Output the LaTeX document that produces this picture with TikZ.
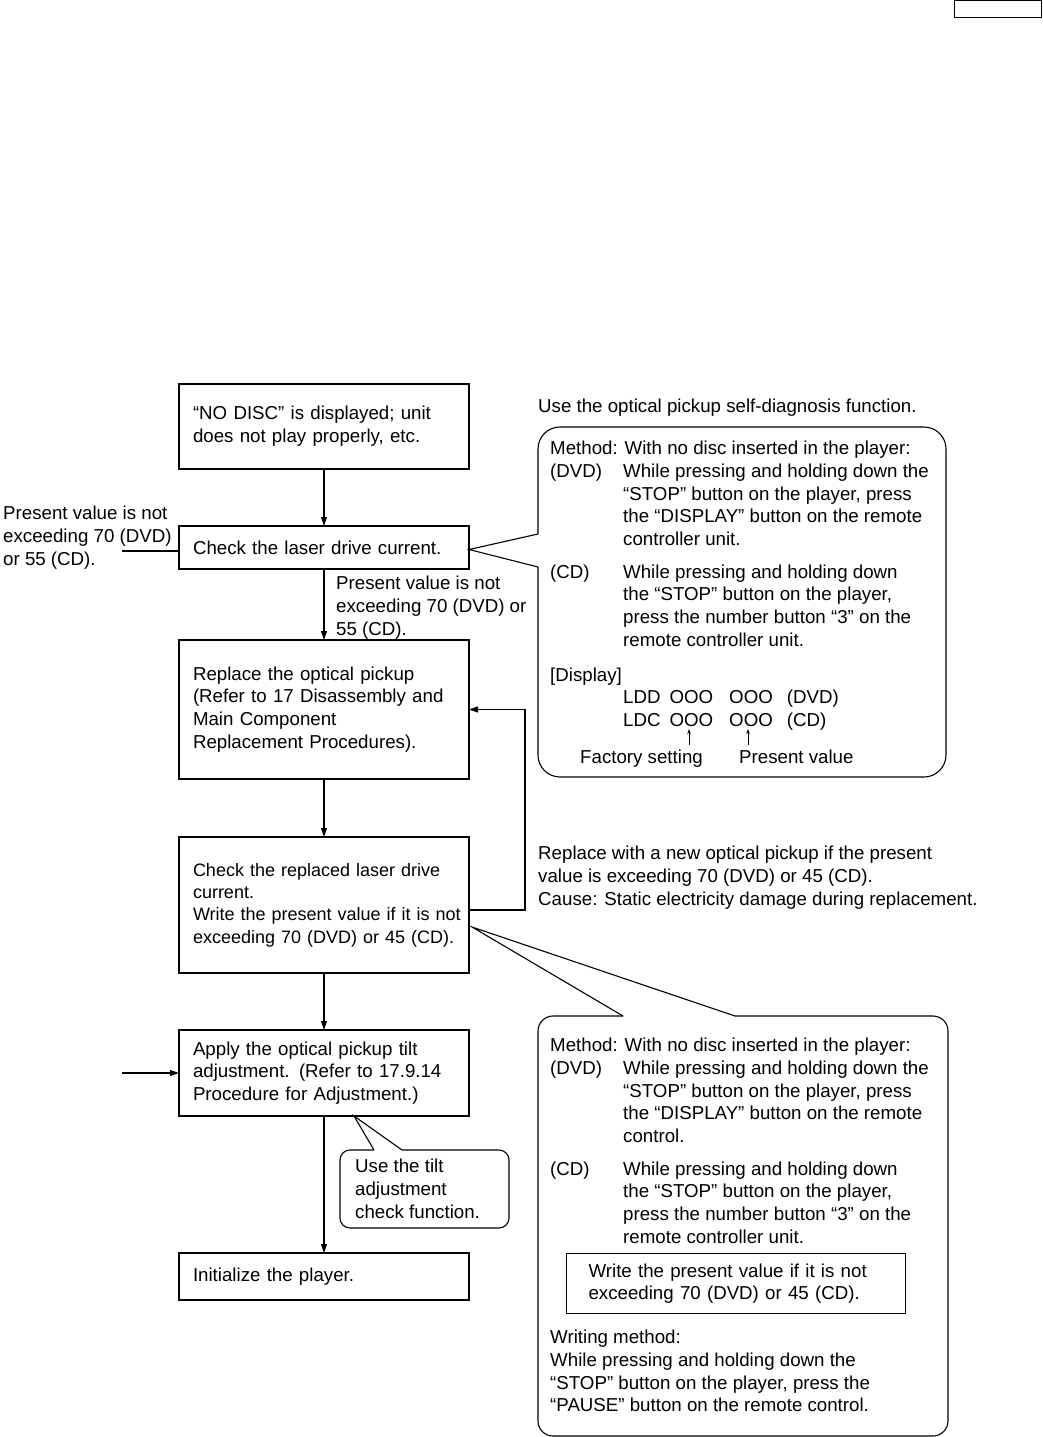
\documentclass[tikz,border=0pt]{standalone}
\usepackage{fontspec}
\setmainfont{Liberation Sans}
\usetikzlibrary{arrows.meta, positioning}
\newcommand{\diagfont}{\fontsize{18.7}{22.7}\selectfont}
\newcommand{\smallfont}{\fontsize{18}{22.4}\selectfont}
\newcommand{\itemlbl}[1]{\makebox[73pt][l]{#1}}

\begin{document}
\begin{tikzpicture}[
    x=1pt, y=-1pt,
    node distance=57pt,
    stepbox/.style={rectangle, draw=black, line width=1.1pt, outer sep=0pt, minimum width=290pt, text width=262pt, inner xsep=14pt, inner ysep=0pt, align=left, font=\diagfont},
    note/.style={inner sep=0pt, align=left, font=\diagfont, anchor=north west},
    framebox/.style={rectangle, draw=black, line width=1.1pt, minimum width=339pt, minimum height=60pt, text width=295pt, inner xsep=22pt, align=left, font=\diagfont, anchor=north west},
    balloon/.style={draw=black, line width=1.1pt},
    arrow/.style={-{Triangle[length=9pt, width=6pt]}, line width=1.1pt},
    pointer/.style={-{Stealth[length=5pt, width=3.5pt]}, line width=0.8pt}
]
\useasboundingbox (0,0) rectangle (1043,1437);

% page tag
\draw[line width=1pt] (954,1) rectangle (1041,18);

% flow
\node[stepbox, minimum height=85pt, anchor=north west] (nodisc) at (179,384) {“NO DISC” is displayed; unit\\does not play properly, etc.};
\node[stepbox, minimum height=43pt, below=of nodisc] (check) {Check the laser drive current.};
\node[stepbox, minimum height=139pt, below=71pt of check] (replace) {Replace the optical pickup\\(Refer to 17 Disassembly and\\Main Component\\Replacement Procedures).};
\node[stepbox, minimum height=136pt, below=58pt of replace, font=\smallfont] (recheck) {Check the replaced laser drive\\current.\\\mbox{Write the present value if it is not}\\\mbox{exceeding 70 (DVD) or 45 (CD).}};
\node[stepbox, minimum height=86pt, below=of recheck] (tilt) {Apply the optical pickup tilt\\adjustment. (Refer to 17.9.14\\Procedure for Adjustment.)};
\node[stepbox, minimum height=47pt, below=137pt of tilt] (init) {Initialize the player.};

\draw[arrow] (nodisc) -- (check);
\draw[arrow] (check) -- (replace);
\draw[arrow] (replace) -- (recheck);
\draw[arrow] (recheck) -- (tilt);
\draw[arrow] (tilt) -- (init);
\draw[arrow] ([yshift=-5pt]recheck.east) -- ++(56,0) |- (replace.east);

% side notes
\node[note] (lefttxt) at (3,506) {Present value is not\\exceeding 70 (DVD)\\or 55 (CD).};
\coordinate (leftin) at (122,551);
\draw[line width=1.1pt] (leftin) -- (leftin -| check.west);
\node[note] (passtxt) at (336,576) {Present value is not\\exceeding 70 (DVD) or\\55 (CD).};
\coordinate (tiltin) at (122,1073);
\draw[arrow] (tiltin) -- (tiltin -| tilt.west);
\node[note] (replacetxt) at (538,846) {Replace with a new optical pickup if the present\\value is exceeding 70 (DVD) or 45 (CD).\\Cause: Static electricity damage during replacement.};

% self-diagnosis balloon
\node[note] (diaghead) at (538,399) {Use the optical pickup self-diagnosis function.};
\coordinate (diagtop) at (538,534);
\coordinate (diagbot) at (538,567);
\draw[balloon, rounded corners=22pt] (diagbot) -- (538,777) -- (946,777) -- (946,427) -- (538,427) -- (diagtop);
\draw[balloon] (diagtop) -- ([yshift=-2pt]check.east) -- (diagbot);
\node[note] (diagtxt) at (550,441) {Method: With no disc inserted in the player:\\
\itemlbl{(DVD)}While pressing and holding down the\\
\itemlbl{}“STOP” button on the player, press\\
\itemlbl{}the “DISPLAY” button on the remote\\
\itemlbl{}controller unit.\\[10pt]
\itemlbl{(CD)}While pressing and holding down\\
\itemlbl{}the “STOP” button on the player,\\
\itemlbl{}press the number button “3” on the\\
\itemlbl{}remote controller unit.\\[12pt]
{[Display]}\\
\itemlbl{}LDD\hspace{9pt}OOO\hspace{16pt}OOO\hspace{14pt}(DVD)\\
\itemlbl{}LDC\hspace{9pt}OOO\hspace{16pt}OOO\hspace{14pt}(CD)};
\node[note] (factory) at (580,750) {Factory setting};
\node[note] (present) at (739,750) {Present value};
\coordinate (factoryarr) at (689,745);
\coordinate (presentarr) at (748,745);
\draw[pointer] (factoryarr) -- ++(0,-16);
\draw[pointer] (presentarr) -- ++(0,-16);

% writing balloon
\coordinate (writetip) at (472,927);
\draw[balloon, rounded corners=15pt] (735,1016) -- (948,1016) -- (948,1436) -- (538,1436) -- (538,1016) -- (623,1016);
\draw[balloon] (623,1016) -- (writetip) -- (735,1016);
\node[note] (writetxt) at (550,1038) {Method: With no disc inserted in the player:\\
\itemlbl{(DVD)}While pressing and holding down the\\
\itemlbl{}“STOP” button on the player, press\\
\itemlbl{}the “DISPLAY” button on the remote\\
\itemlbl{}control.\\[10pt]
\itemlbl{(CD)}While pressing and holding down\\
\itemlbl{}the “STOP” button on the player,\\
\itemlbl{}press the number button “3” on the\\
\itemlbl{}remote controller unit.};
\node[framebox] (writeval) at (566,1253) {Write the present value if it is not\\exceeding 70 (DVD) or 45 (CD).};
\node[note] (writemethod) at (550,1330) {Writing method:\\While pressing and holding down the\\“STOP” button on the player, press the\\“PAUSE” button on the remote control.};

% tilt check balloon
\coordinate (tilttip) at (354,1116);
\draw[balloon, rounded corners=10pt] (402,1150) -- (509,1150) -- (509,1228) -- (340,1228) -- (340,1150) -- (374,1150);
\draw[balloon] (374,1150) -- (tilttip) -- (402,1150);
\node[note] (tiltnote) at (355,1159) {Use the tilt\\adjustment\\check function.};

\end{tikzpicture}
\end{document}
